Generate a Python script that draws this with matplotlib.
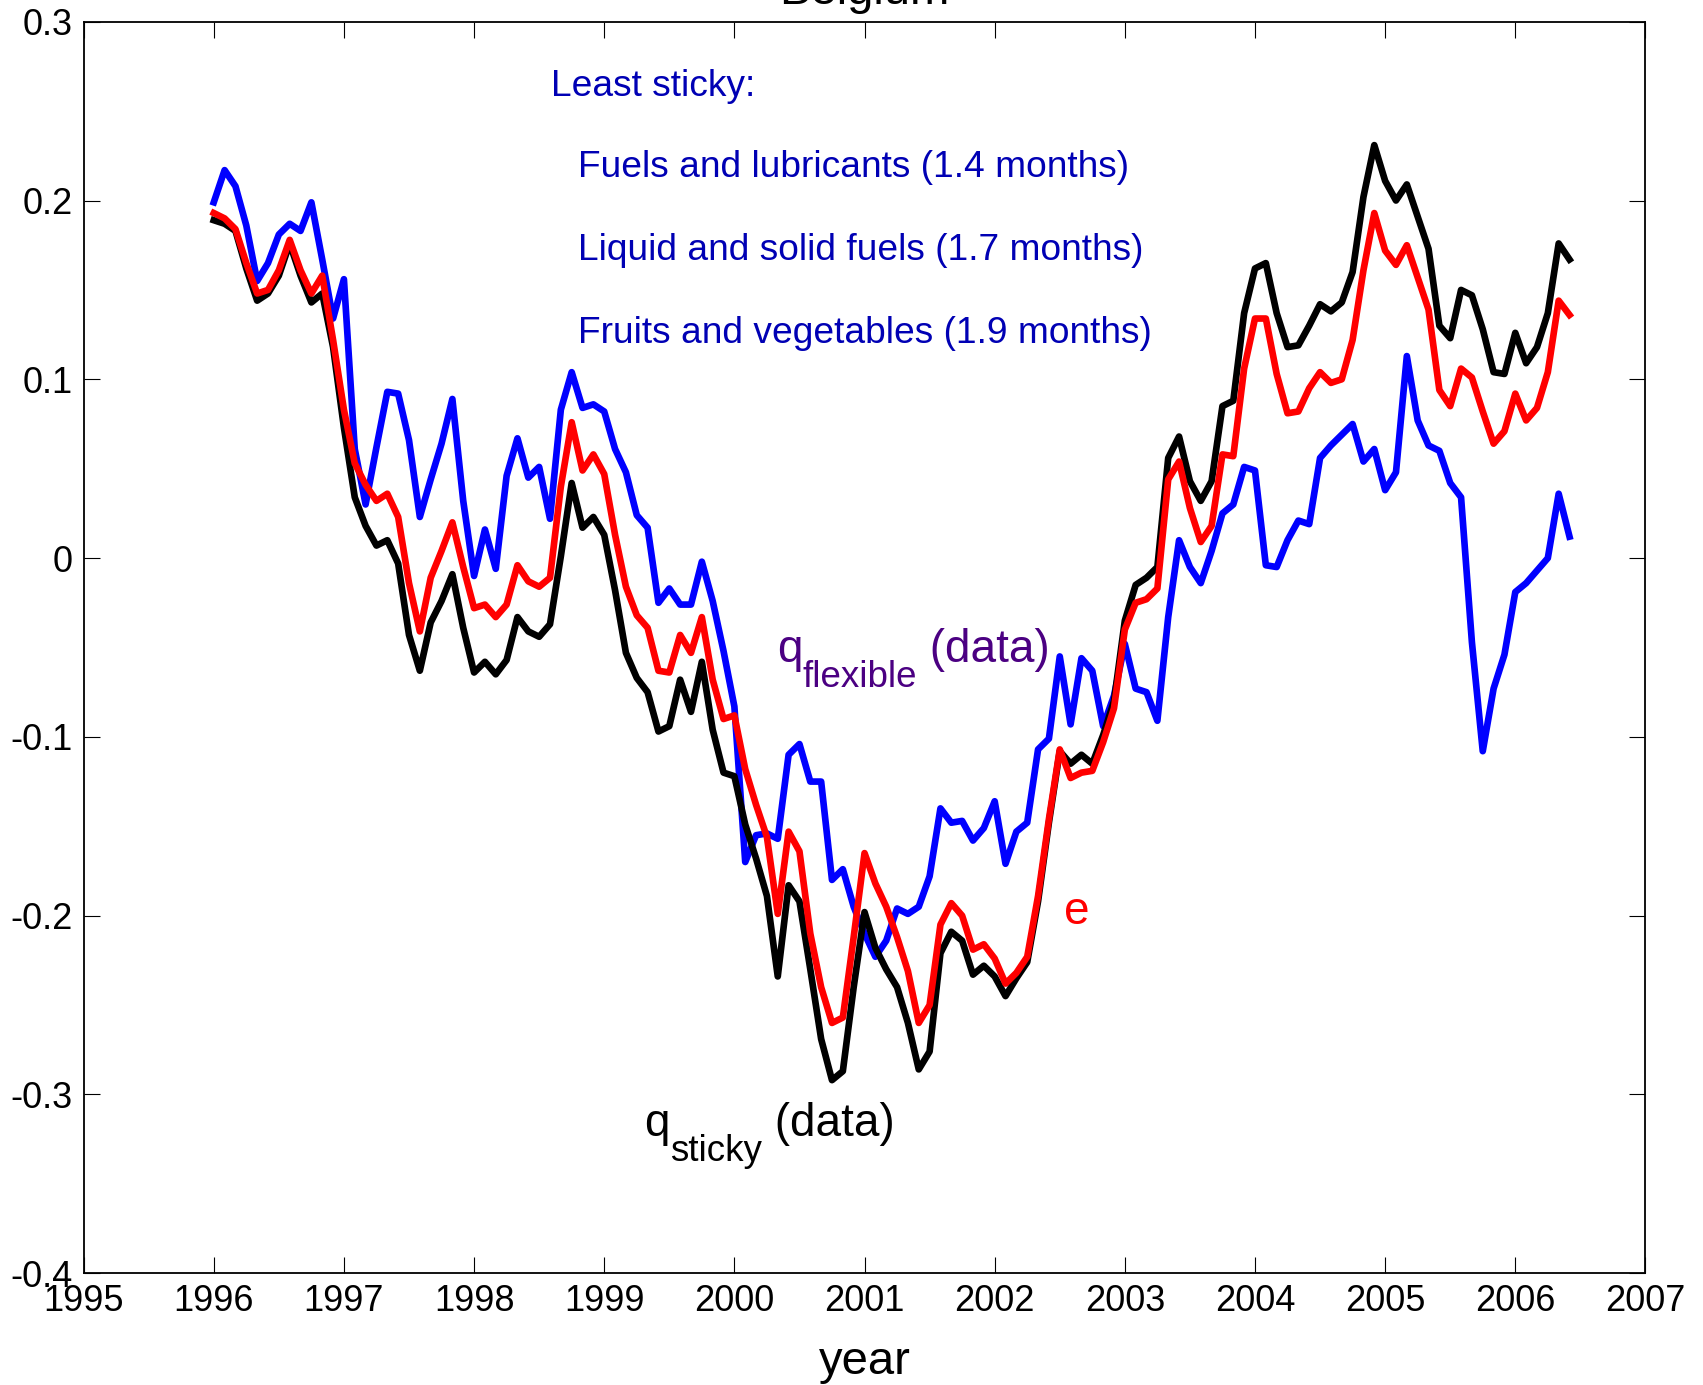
import numpy as np
import matplotlib
matplotlib.use("Agg")
import matplotlib.pyplot as plt
from matplotlib.transforms import offset_copy

# Monthly real exchange rate series for Belgium, Jan 1996 - Jun 2006
q_flexible = [
    0.199, 0.217, 0.208, 0.186, 0.155, 0.165, 0.181, 0.187, 0.183, 0.199, 0.167, 0.134,
    0.156, 0.061, 0.030, 0.062, 0.093, 0.092, 0.066, 0.023, 0.044, 0.064, 0.089, 0.032,
    -0.010, 0.016, -0.006, 0.046, 0.067, 0.045, 0.051, 0.022, 0.083, 0.104, 0.084, 0.086,
    0.082, 0.061, 0.048, 0.024, 0.017, -0.025, -0.017, -0.026, -0.026, -0.002, -0.024, -0.052,
    -0.083, -0.170, -0.155, -0.154, -0.157, -0.110, -0.104, -0.125, -0.125, -0.180, -0.174, -0.195,
    -0.210, -0.223, -0.214, -0.196, -0.199, -0.195, -0.178, -0.140, -0.148, -0.147, -0.158, -0.151,
    -0.136, -0.171, -0.153, -0.148, -0.107, -0.101, -0.055, -0.093, -0.056, -0.063, -0.094, -0.077,
    -0.048, -0.073, -0.075, -0.091, -0.033, 0.010, -0.005, -0.014, 0.004, 0.025, 0.030, 0.051,
    0.049, -0.004, -0.005, 0.010, 0.021, 0.019, 0.056, 0.063, 0.069, 0.075, 0.054, 0.061,
    0.038, 0.048, 0.113, 0.077, 0.063, 0.060, 0.042, 0.034, -0.047, -0.108, -0.073, -0.054,
    -0.019, -0.014, -0.007, 0.000, 0.036, 0.012,
]

e_rate = [
    0.193, 0.190, 0.184, 0.165, 0.148, 0.150, 0.161, 0.178, 0.161, 0.148, 0.158, 0.122,
    0.083, 0.053, 0.041, 0.032, 0.036, 0.023, -0.014, -0.041, -0.011, 0.004, 0.020, -0.005,
    -0.028, -0.026, -0.033, -0.026, -0.004, -0.013, -0.016, -0.011, 0.040, 0.076, 0.049, 0.058,
    0.047, 0.013, -0.016, -0.032, -0.039, -0.063, -0.064, -0.043, -0.053, -0.033, -0.068, -0.090,
    -0.088, -0.118, -0.138, -0.156, -0.199, -0.153, -0.164, -0.210, -0.240, -0.260, -0.257, -0.212,
    -0.165, -0.182, -0.195, -0.212, -0.231, -0.260, -0.250, -0.205, -0.193, -0.200, -0.219, -0.216,
    -0.224, -0.238, -0.232, -0.223, -0.189, -0.146, -0.107, -0.123, -0.120, -0.119, -0.103, -0.084,
    -0.040, -0.025, -0.023, -0.017, 0.044, 0.054, 0.028, 0.009, 0.018, 0.058, 0.057, 0.106,
    0.134, 0.134, 0.103, 0.081, 0.082, 0.095, 0.104, 0.098, 0.100, 0.122, 0.161, 0.193,
    0.172, 0.164, 0.175, 0.157, 0.139, 0.094, 0.085, 0.106, 0.101, 0.082, 0.064, 0.071,
    0.092, 0.077, 0.084, 0.104, 0.144, 0.136,
]

q_sticky = [
    0.189, 0.187, 0.183, 0.162, 0.144, 0.148, 0.158, 0.176, 0.158, 0.143, 0.148, 0.118,
    0.073, 0.034, 0.018, 0.007, 0.010, -0.003, -0.043, -0.063, -0.036, -0.024, -0.009, -0.039,
    -0.064, -0.058, -0.065, -0.057, -0.033, -0.041, -0.044, -0.037, 0.001, 0.042, 0.017, 0.023,
    0.013, -0.018, -0.053, -0.067, -0.075, -0.097, -0.094, -0.068, -0.086, -0.058, -0.096, -0.120,
    -0.122, -0.149, -0.168, -0.189, -0.234, -0.183, -0.192, -0.230, -0.269, -0.292, -0.287, -0.240,
    -0.198, -0.218, -0.230, -0.240, -0.260, -0.286, -0.276, -0.221, -0.209, -0.214, -0.233, -0.228,
    -0.234, -0.245, -0.235, -0.226, -0.192, -0.148, -0.108, -0.115, -0.110, -0.115, -0.099, -0.080,
    -0.035, -0.015, -0.011, -0.005, 0.056, 0.068, 0.043, 0.032, 0.043, 0.085, 0.088, 0.137,
    0.162, 0.165, 0.137, 0.118, 0.119, 0.130, 0.142, 0.138, 0.143, 0.160, 0.202, 0.231,
    0.211, 0.200, 0.209, 0.191, 0.173, 0.130, 0.123, 0.150, 0.147, 0.128, 0.104, 0.103,
    0.126, 0.109, 0.118, 0.137, 0.176, 0.167,
]

least_sticky = [
    "Fuels and lubricants (1.4 months)",
    "Liquid and solid fuels (1.7 months)",
    "Fruits and vegetables (1.9 months)",
]

xticks = np.arange(1995, 2008)
yticks = np.round(np.arange(-0.4, 0.31, 0.1), 1)

years = 1996 + np.arange(len(q_sticky)) / 12.0

plt.rcParams['font.family'] = ['Liberation Sans', 'DejaVu Sans']
plt.rcParams['axes.unicode_minus'] = False

fig = plt.figure(figsize=(17.03, 13.85), dpi=100)
ax = fig.add_axes([0.0491, 0.0807, 0.9171, 0.9036])

lw = 4.8
ax.plot(years, q_flexible, color='#0000ff', linewidth=lw)
ax.plot(years, q_sticky, color='k', linewidth=lw)
ax.plot(years, e_rate, color='#ff0000', linewidth=lw)

ax.set_xlim(1995, 2007)
ax.set_ylim(-0.4, 0.3)
ax.set_xticks(xticks)
ax.set_xticklabels([str(t) for t in xticks])
ax.set_yticks(yticks)
ax.set_yticklabels(['0' if v == 0 else f'{v:g}' for v in yticks])

ax.tick_params(direction='in', length=11.5, width=0.8, labelsize=26,
               top=True, right=True, pad=8)
ax.tick_params(axis='x', pad=8)
for sp in ax.spines.values():
    sp.set_linewidth(1.3)

ax.set_xlabel('year', fontsize=34, labelpad=15)
ax.set_title('Belgium', fontsize=34, pad=13)

# notes in the upper part of the panel
note_col = '#0000b4'
ax.text(1998.59, 0.264, 'Least sticky:', color=note_col, fontsize=26.7, va='center')
for k, label in enumerate(least_sticky):
    ax.text(1998.80, 0.2185 - 0.0465 * k, label, color=note_col, fontsize=26.7, va='center')


def sub_label(x, y, base, sub, tail, color, size=33, sub_size=26.5, drop=18):
    """Write base_sub tail with a lowered subscript, laid out piece by piece."""
    renderer = fig.canvas.get_renderer()
    t1 = ax.text(x, y, base, color=color, fontsize=size, va='baseline')
    w1 = t1.get_window_extent(renderer).width * 72.0 / fig.dpi
    tr = offset_copy(ax.transData, fig=fig, x=w1, y=-drop, units='points')
    t2 = ax.text(x, y, sub, color=color, fontsize=sub_size, va='baseline', transform=tr)
    w2 = t2.get_window_extent(renderer).width * 72.0 / fig.dpi
    tr = offset_copy(ax.transData, fig=fig, x=w1 + w2, y=0, units='points')
    ax.text(x, y, tail, color=color, fontsize=size, va='baseline', transform=tr)


# series labels
sub_label(2000.33, -0.058, 'q', 'flexible', ' (data)', '#4b0082')
ax.text(2002.53, -0.2045, 'e', color='#ff0000', fontsize=33, va='baseline')
sub_label(1999.31, -0.3235, 'q', 'sticky', ' (data)', 'k')

fig.savefig('out.png', dpi=100)
